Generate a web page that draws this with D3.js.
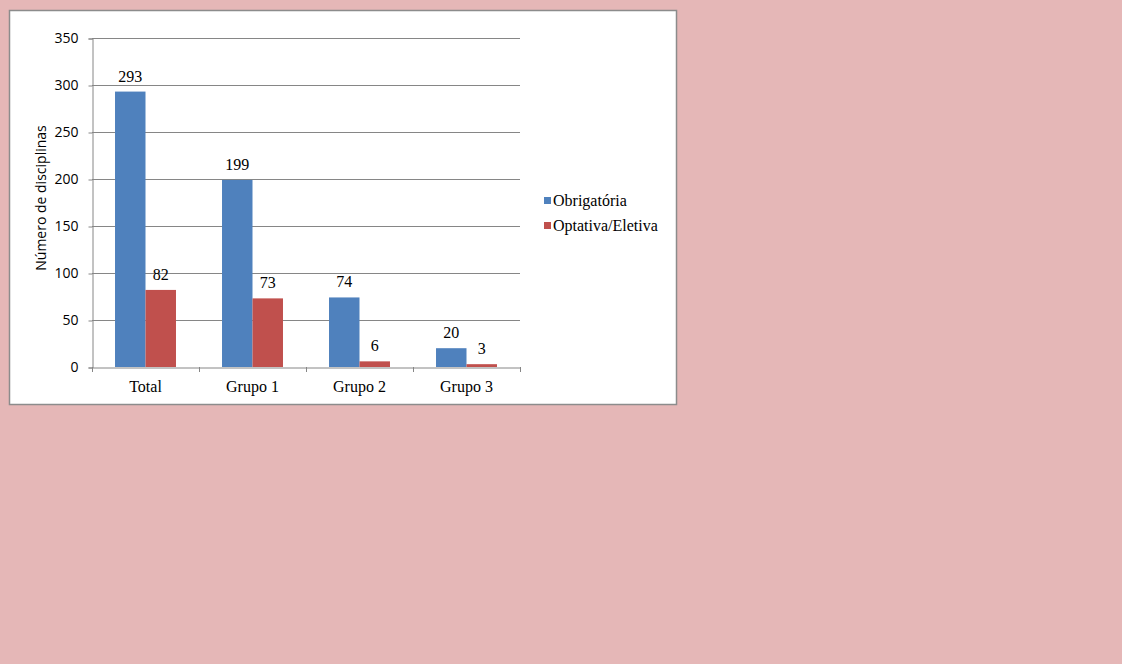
<!DOCTYPE html>
<html>
<head>
<meta charset="utf-8">
<script src="https://cdn.jsdelivr.net/npm/d3@7"></script>
<style>
  body { margin: 0; background: #e5b7b7; }
  svg { display: block; }
</style>
</head>
<body>
<svg width="1122" height="664"></svg>
<script>
// data
const categories = ["Total", "Grupo 1", "Grupo 2", "Grupo 3"];
const seriesNames = ["Obrigatória", "Optativa/Eletiva"];
const obrigatoria = [293, 199, 74, 20];
const optativa = [82, 73, 6, 3];
const yTicks = [0, 50, 100, 150, 200, 250, 300, 350];
const colors = ["#4f81bd", "#c0504d"];

const svg = d3.select("svg");
const serif = "'Liberation Serif', 'Times New Roman', serif";
const sans = "'Open Sans', 'Liberation Sans', sans-serif";

// white chart box
svg.append("rect")
  .attr("x", 9.5).attr("y", 10.5)
  .attr("width", 667).attr("height", 394)
  .attr("fill", "#fff")
  .attr("stroke", "#8c8c8c")
  .attr("stroke-width", 1.5);

const plotL = 92, plotR = 520, plotT = 38, plotB = 367;

const x = d3.scaleBand().domain(categories).range([plotL, plotR]).paddingInner(0).paddingOuter(0);
const x1 = d3.scaleBand().domain(seriesNames).range([0, x.bandwidth()]).paddingInner(0).paddingOuter(0.755);
const y = d3.scaleLinear().domain([0, 350]).range([plotB, plotT]);

// gridlines
svg.append("g")
  .selectAll("line")
  .data(yTicks.filter(d => d > 0))
  .join("line")
  .attr("x1", plotL).attr("x2", plotR)
  .attr("y1", d => Math.round(y(d)) + 0.5).attr("y2", d => Math.round(y(d)) + 0.5)
  .attr("stroke", "#868686");

// y axis
const yAxis = svg.append("g")
  .attr("transform", `translate(${plotL + 0.5},0.5)`)
  .call(d3.axisLeft(y).tickValues(yTicks).tickSize(4).tickPadding(10));
yAxis.select(".domain").attr("stroke", "#868686");
yAxis.selectAll(".tick line").attr("stroke", "#868686");
yAxis.selectAll("text")
  .attr("fill", "#000")
  .style("font-family", sans)
  .style("font-size", "14px");

// bars
const series = [obrigatoria, optativa];
const groups = svg.append("g")
  .selectAll("g")
  .data(series)
  .join("g")
  .attr("fill", (d, i) => colors[i]);

groups.selectAll("rect")
  .data((vals, si) => vals.map((v, ci) => ({ v, ci, si })))
  .join("rect")
  .attr("x", d => x(categories[d.ci]) + x1(seriesNames[d.si]))
  .attr("y", d => y(d.v))
  .attr("width", x1.bandwidth())
  .attr("height", d => y(0) - y(d.v));

// data labels
groups.selectAll("text")
  .data((vals, si) => vals.map((v, ci) => ({ v, ci, si })))
  .join("text")
  .attr("x", d => x(categories[d.ci]) + x1(seriesNames[d.si]) + x1.bandwidth() / 2)
  .attr("y", d => y(d.v) - 10)
  .attr("text-anchor", "middle")
  .attr("fill", "#000")
  .style("font-family", serif)
  .style("font-size", "16px")
  .text(d => d.v);

// x axis
const xAxis = svg.append("g")
  .attr("transform", `translate(0,${plotB + 0.5})`)
  .call(d3.axisBottom(x).tickSize(0).tickPadding(13));
xAxis.select(".domain").attr("stroke", "#868686");
xAxis.selectAll("text")
  .attr("fill", "#000")
  .style("font-family", serif)
  .style("font-size", "16px");
// boundary tick marks
svg.append("g")
  .selectAll("line")
  .data(categories.concat(["end"]))
  .join("line")
  .attr("x1", (d, i) => Math.round(plotL + i * x.bandwidth()) + 0.5)
  .attr("x2", (d, i) => Math.round(plotL + i * x.bandwidth()) + 0.5)
  .attr("y1", plotB).attr("y2", plotB + 5)
  .attr("stroke", "#868686");

// y axis title
svg.append("text")
  .attr("transform", "translate(46,198) rotate(-90)")
  .attr("text-anchor", "middle")
  .style("font-family", sans)
  .style("font-size", "14px")
  .text("Número de disciplinas");

// legend
const legend = svg.append("g")
  .selectAll("g")
  .data(seriesNames)
  .join("g")
  .attr("transform", (d, i) => `translate(544,${197 + i * 25})`);
legend.append("rect")
  .attr("x", 0).attr("y", 0)
  .attr("width", 7).attr("height", 7)
  .attr("fill", (d, i) => colors[i]);
legend.append("text")
  .attr("x", 9).attr("y", 9)
  .style("font-family", serif)
  .style("font-size", "16px")
  .text(d => d);
</script>
</body>
</html>
